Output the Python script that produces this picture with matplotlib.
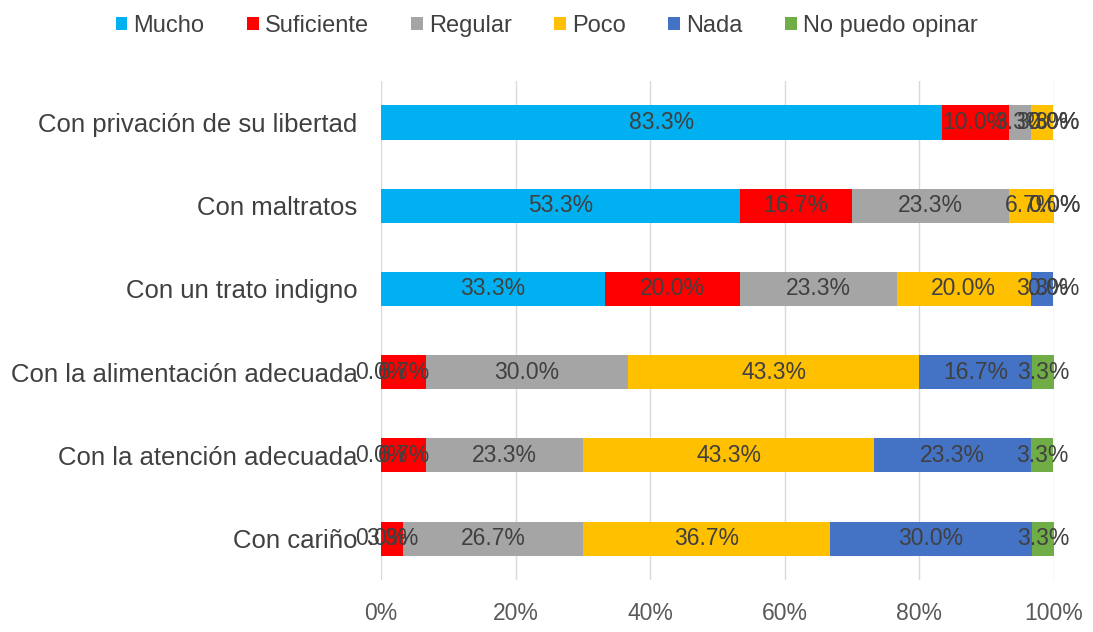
import matplotlib
matplotlib.use('Agg')
import matplotlib.pyplot as plt
import numpy as np

plt.rcParams['font.family'] = ['Liberation Sans', 'DejaVu Sans']

# Data (percentages)
categories = ['Con privación de su libertad', 'Con maltratos', 'Con un trato indigno',
              'Con la alimentación adecuada', 'Con la atención adecuada', 'Con cariño']
series = ['Mucho', 'Suficiente', 'Regular', 'Poco', 'Nada', 'No puedo opinar']
mucho = [83.3, 53.3, 33.3, 0.0, 0.0, 0.0]
suficiente = [10.0, 16.7, 20.0, 6.7, 6.7, 3.3]
regular = [3.3, 23.3, 23.3, 30.0, 23.3, 26.7]
poco = [3.3, 6.7, 20.0, 43.3, 43.3, 36.7]
nada = [0.0, 0.0, 3.3, 16.7, 23.3, 30.0]
no_opina = [0.0, 0.0, 0.0, 3.3, 3.3, 3.3]
colors = ['#00B0F0', '#FF0000', '#A5A5A5', '#FFC000', '#4472C4', '#70AD47']

values = [mucho, suficiente, regular, poco, nada, no_opina]

fig = plt.figure(figsize=(10.93, 6.32), dpi=100)
ax = fig.add_axes([0.3486, 0.082, 0.6157, 0.790])

y = np.arange(len(categories))
left = np.zeros(len(categories))
for name, vals, col in zip(series, values, colors):
    vals = np.array(vals)
    ax.barh(y, vals, left=left, height=0.41, color=col, label=name, zorder=3)
    for yi, l, v in zip(y, left, vals):
        ax.text(l + v / 2, yi, f'{v:.1f}%', ha='center', va='center',
                fontsize=16.5, color='#404040', zorder=4)
    left += vals

ax.set_xlim(0, 100)
ax.set_ylim(len(categories) - 0.5, -0.5)
ax.set_xticks(np.arange(0, 101, 20))
ax.set_xticklabels([f'{t}%' for t in range(0, 101, 20)])
ax.set_yticks(y)
ax.set_yticklabels(categories)
ax.tick_params(axis='x', length=0, pad=16, labelsize=16.5, labelcolor='#595959')
ax.tick_params(axis='y', length=0, pad=17, labelsize=18.5, labelcolor='#404040')
ax.grid(axis='x', color='#D9D9D9', linewidth=1, zorder=0)
for s in ax.spines.values():
    s.set_visible(False)

fig.legend(loc='upper center', bbox_to_anchor=(0.5, 1.01), ncol=6, frameon=False,
           fontsize=17, handlelength=0.5, handleheight=0.5, handletextpad=0.25,
           columnspacing=1.8, labelcolor='#404040')

plt.savefig('out.png', dpi=100)
